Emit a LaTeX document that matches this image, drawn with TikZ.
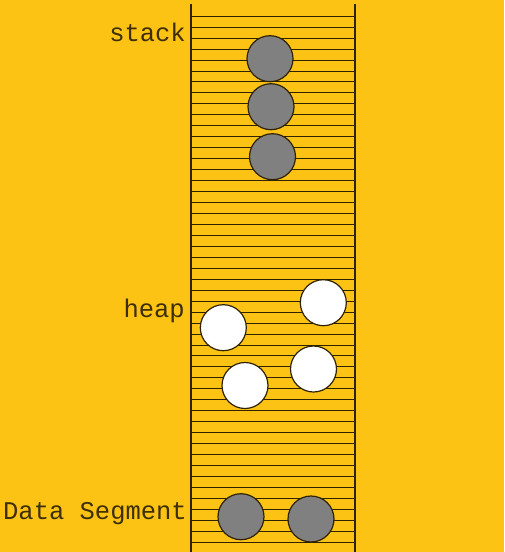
\documentclass[tikz,border=0pt]{standalone}
\usepackage{fontspec}
\setmonofont{Liberation Mono}
\definecolor{bg}{HTML}{FDC314}
\definecolor{ink}{HTML}{2E2200}
\definecolor{txt}{HTML}{3D2E05}
\definecolor{stackgray}{HTML}{808080}
\tikzset{
  grid line/.style={draw=ink, line width=1.3pt},
  cellball/.style={circle, minimum size=46pt, inner sep=0pt, draw=ink, line width=1.2pt},
  stackball/.style={cellball, fill=stackgray},
  heapball/.style={cellball, fill=white},
  label text/.style={font=\ttfamily\fontsize{25.5}{25.5}\selectfont, text=txt, inner sep=0pt, anchor=base east}
}
\begin{document}
\begin{tikzpicture}[x=1pt, y=-1pt]
\fill[bg] (0,0) rectangle (504,552);
\useasboundingbox (0,0) rectangle (504,552);
\foreach \i in {0,...,48} {
  \pgfmathsetmacro{\yy}{round(15.7+10.96*\i)+0.5}
  \draw[grid line] (191,\yy) -- (355,\yy);
}
\draw[grid line] (191,4) -- (191,552);
\draw[grid line] (355,4) -- (355,552);
% stack
\node[stackball] (s1) at (270,58.7) {};
\node[stackball] (s2) at (271,106.7) {};
\node[stackball] (s3) at (272.5,156.7) {};
% heap
\node[heapball] (h1) at (223.3,327.7) {};
\node[heapball] (h2) at (323.3,302.7) {};
\node[heapball] (h3) at (245,385.5) {};
\node[heapball] (h4) at (313.5,369) {};
% data segment
\node[stackball] (d1) at (241,516.7) {};
\node[stackball] (d2) at (311,519) {};
% labels
\node[label text] (lstack) at (186,41.7) {stack};
\node[label text] (lheap) at (185,317.5) {heap};
\node[label text] (ldata) at (187,519.3) {Data Segment};
\end{tikzpicture}
\end{document}
